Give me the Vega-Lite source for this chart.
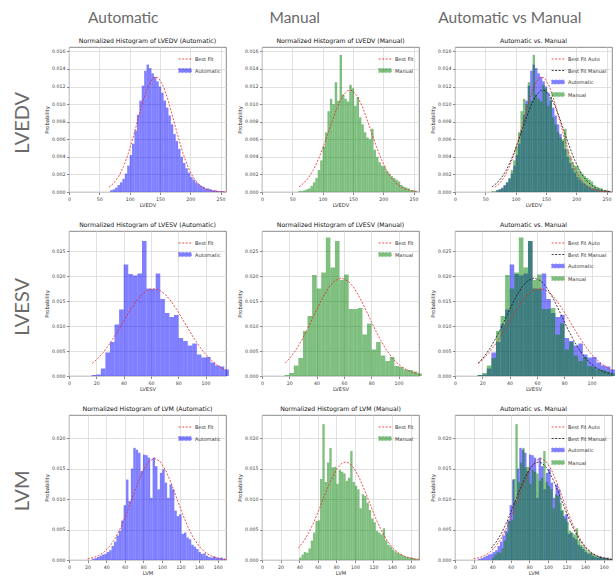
{
"$schema": "https://vega.github.io/schema/vega-lite/v6.json",
"padding": {"left": 13, "top": 10, "right": 0, "bottom": 0},
"background": "white",
"config": {
  "font": "DejaVu Sans",
  "view": {"stroke": "#6b6b6b", "strokeWidth": 0.8},
  "axis": {"labelFont": "DejaVu Sans", "titleFont": "DejaVu Sans", "labelFontSize": 4.7, "titleFontSize": 5.2, "titleFontWeight": "normal", "labelColor": "#444", "titleColor": "#333", "tickColor": "#888", "tickSize": 2.5, "gridColor": "#d9d9d9", "gridWidth": 0.8, "domain": false, "labelPadding": 1.5, "titlePadding": 2, "labelFlush": false, "labelOverlap": false, "tickCount": 12},
  "legend": {"orient": "top-right", "title": null, "labelFontSize": 5, "labelColor": "#333", "rowPadding": 1.5, "padding": 1, "offset": 4, "labelOffset": 3, "symbolSize": 160},
  "title": {"fontWeight": "normal", "font": "DejaVu Sans", "fontSize": 6.2, "color": "#111", "offset": 3}
},
"datasets": {
"hist": [
{"v":"LVEDV","s":"Automatic","a":68,"b":72,"p":0.0002},{"v":"LVEDV","s":"Automatic","a":72,"b":76,"p":0.0003},{"v":"LVEDV","s":"Automatic","a":76,"b":80,"p":0.0005},{"v":"LVEDV","s":"Automatic","a":80,"b":84,"p":0.0008},{"v":"LVEDV","s":"Automatic","a":84,"b":88,"p":0.0011},{"v":"LVEDV","s":"Automatic","a":88,"b":92,"p":0.0015},{"v":"LVEDV","s":"Automatic","a":92,"b":96,"p":0.0021},{"v":"LVEDV","s":"Automatic","a":96,"b":100,"p":0.0030},{"v":"LVEDV","s":"Automatic","a":100,"b":104,"p":0.0042},{"v":"LVEDV","s":"Automatic","a":104,"b":108,"p":0.0055},{"v":"LVEDV","s":"Automatic","a":108,"b":112,"p":0.0070},{"v":"LVEDV","s":"Automatic","a":112,"b":116,"p":0.0088},{"v":"LVEDV","s":"Automatic","a":116,"b":120,"p":0.0104},{"v":"LVEDV","s":"Automatic","a":120,"b":124,"p":0.0121},{"v":"LVEDV","s":"Automatic","a":124,"b":128,"p":0.0138},{"v":"LVEDV","s":"Automatic","a":128,"b":132,"p":0.0145},{"v":"LVEDV","s":"Automatic","a":132,"b":136,"p":0.0141},{"v":"LVEDV","s":"Automatic","a":136,"b":140,"p":0.0135},{"v":"LVEDV","s":"Automatic","a":140,"b":144,"p":0.0131},{"v":"LVEDV","s":"Automatic","a":144,"b":148,"p":0.0126},{"v":"LVEDV","s":"Automatic","a":148,"b":152,"p":0.0120},{"v":"LVEDV","s":"Automatic","a":152,"b":156,"p":0.0113},{"v":"LVEDV","s":"Automatic","a":156,"b":160,"p":0.0104},{"v":"LVEDV","s":"Automatic","a":160,"b":164,"p":0.0096},{"v":"LVEDV","s":"Automatic","a":164,"b":168,"p":0.0087},{"v":"LVEDV","s":"Automatic","a":168,"b":172,"p":0.0077},{"v":"LVEDV","s":"Automatic","a":172,"b":176,"p":0.0066},{"v":"LVEDV","s":"Automatic","a":176,"b":180,"p":0.0058},{"v":"LVEDV","s":"Automatic","a":180,"b":184,"p":0.0049},{"v":"LVEDV","s":"Automatic","a":184,"b":188,"p":0.0040},{"v":"LVEDV","s":"Automatic","a":188,"b":192,"p":0.0033},{"v":"LVEDV","s":"Automatic","a":192,"b":196,"p":0.0027},{"v":"LVEDV","s":"Automatic","a":196,"b":200,"p":0.0022},{"v":"LVEDV","s":"Automatic","a":200,"b":204,"p":0.0017},{"v":"LVEDV","s":"Automatic","a":204,"b":208,"p":0.0014},{"v":"LVEDV","s":"Automatic","a":208,"b":212,"p":0.0011},{"v":"LVEDV","s":"Automatic","a":212,"b":216,"p":0.0009},{"v":"LVEDV","s":"Automatic","a":216,"b":220,"p":0.0007},{"v":"LVEDV","s":"Automatic","a":220,"b":224,"p":0.0006},{"v":"LVEDV","s":"Automatic","a":224,"b":228,"p":0.0004},{"v":"LVEDV","s":"Automatic","a":228,"b":232,"p":0.0004},{"v":"LVEDV","s":"Automatic","a":232,"b":236,"p":0.0003},{"v":"LVEDV","s":"Automatic","a":236,"b":240,"p":0.0002},{"v":"LVEDV","s":"Automatic","a":240,"b":244,"p":0.0002},{"v":"LVEDV","s":"Automatic","a":244,"b":248,"p":0.0001},{"v":"LVEDV","s":"Automatic","a":248,"b":252,"p":0.0001},{"v":"LVEDV","s":"Automatic","a":252,"b":256,"p":0.0001},
{"v":"LVESV","s":"Automatic","a":16.6,"b":19.95,"p":0.0002},{"v":"LVESV","s":"Automatic","a":19.95,"b":23.3,"p":0.0003},{"v":"LVESV","s":"Automatic","a":23.3,"b":26.65,"p":0.0015},{"v":"LVESV","s":"Automatic","a":26.65,"b":30.0,"p":0.0047},{"v":"LVESV","s":"Automatic","a":30.0,"b":33.35,"p":0.0068},{"v":"LVESV","s":"Automatic","a":33.35,"b":36.7,"p":0.0103},{"v":"LVESV","s":"Automatic","a":36.7,"b":40.05,"p":0.0133},{"v":"LVESV","s":"Automatic","a":40.05,"b":43.4,"p":0.0223},{"v":"LVESV","s":"Automatic","a":43.4,"b":46.75,"p":0.0204},{"v":"LVESV","s":"Automatic","a":46.75,"b":50.1,"p":0.0201},{"v":"LVESV","s":"Automatic","a":50.1,"b":53.45,"p":0.0205},{"v":"LVESV","s":"Automatic","a":53.45,"b":56.8,"p":0.0270},{"v":"LVESV","s":"Automatic","a":56.8,"b":60.15,"p":0.0175},{"v":"LVESV","s":"Automatic","a":60.15,"b":63.5,"p":0.0174},{"v":"LVESV","s":"Automatic","a":63.5,"b":66.85,"p":0.0205},{"v":"LVESV","s":"Automatic","a":66.85,"b":70.2,"p":0.0154},{"v":"LVESV","s":"Automatic","a":70.2,"b":73.55,"p":0.0126},{"v":"LVESV","s":"Automatic","a":73.55,"b":76.9,"p":0.0118},{"v":"LVESV","s":"Automatic","a":76.9,"b":80.25,"p":0.0122},{"v":"LVESV","s":"Automatic","a":80.25,"b":83.6,"p":0.0076},{"v":"LVESV","s":"Automatic","a":83.6,"b":86.95,"p":0.0070},{"v":"LVESV","s":"Automatic","a":86.95,"b":90.3,"p":0.0061},{"v":"LVESV","s":"Automatic","a":90.3,"b":93.65,"p":0.0065},{"v":"LVESV","s":"Automatic","a":93.65,"b":97.0,"p":0.0043},{"v":"LVESV","s":"Automatic","a":97.0,"b":100.35,"p":0.0037},{"v":"LVESV","s":"Automatic","a":100.35,"b":103.7,"p":0.0038},{"v":"LVESV","s":"Automatic","a":103.7,"b":107.05,"p":0.0027},{"v":"LVESV","s":"Automatic","a":107.05,"b":110.4,"p":0.0021},{"v":"LVESV","s":"Automatic","a":110.4,"b":113.75,"p":0.0019},{"v":"LVESV","s":"Automatic","a":113.75,"b":117.1,"p":0.0013},
{"v":"LVM","s":"Automatic","a":25.0,"b":27.6,"p":0.0002},{"v":"LVM","s":"Automatic","a":27.6,"b":30.2,"p":0.0003},{"v":"LVM","s":"Automatic","a":30.2,"b":32.8,"p":0.0005},{"v":"LVM","s":"Automatic","a":32.8,"b":35.4,"p":0.0007},{"v":"LVM","s":"Automatic","a":35.4,"b":38.0,"p":0.0009},{"v":"LVM","s":"Automatic","a":38.0,"b":40.6,"p":0.0010},{"v":"LVM","s":"Automatic","a":40.6,"b":43.2,"p":0.0013},{"v":"LVM","s":"Automatic","a":43.2,"b":45.8,"p":0.0016},{"v":"LVM","s":"Automatic","a":45.8,"b":48.4,"p":0.0023},{"v":"LVM","s":"Automatic","a":48.4,"b":51.0,"p":0.0030},{"v":"LVM","s":"Automatic","a":51.0,"b":53.6,"p":0.0040},{"v":"LVM","s":"Automatic","a":53.6,"b":56.2,"p":0.0048},{"v":"LVM","s":"Automatic","a":56.2,"b":58.8,"p":0.0065},{"v":"LVM","s":"Automatic","a":58.8,"b":61.4,"p":0.0090},{"v":"LVM","s":"Automatic","a":61.4,"b":64.0,"p":0.0132},{"v":"LVM","s":"Automatic","a":64.0,"b":66.6,"p":0.0097},{"v":"LVM","s":"Automatic","a":66.6,"b":69.2,"p":0.0150},{"v":"LVM","s":"Automatic","a":69.2,"b":71.8,"p":0.0184},{"v":"LVM","s":"Automatic","a":71.8,"b":74.4,"p":0.0181},{"v":"LVM","s":"Automatic","a":74.4,"b":77.0,"p":0.0176},{"v":"LVM","s":"Automatic","a":77.0,"b":79.6,"p":0.0146},{"v":"LVM","s":"Automatic","a":79.6,"b":82.2,"p":0.0173},{"v":"LVM","s":"Automatic","a":82.2,"b":84.8,"p":0.0172},{"v":"LVM","s":"Automatic","a":84.8,"b":87.4,"p":0.0168},{"v":"LVM","s":"Automatic","a":87.4,"b":90.0,"p":0.0102},{"v":"LVM","s":"Automatic","a":90.0,"b":92.6,"p":0.0168},{"v":"LVM","s":"Automatic","a":92.6,"b":95.2,"p":0.0154},{"v":"LVM","s":"Automatic","a":95.2,"b":97.8,"p":0.0116},{"v":"LVM","s":"Automatic","a":97.8,"b":100.4,"p":0.0143},{"v":"LVM","s":"Automatic","a":100.4,"b":103.0,"p":0.0149},{"v":"LVM","s":"Automatic","a":103.0,"b":105.6,"p":0.0127},{"v":"LVM","s":"Automatic","a":105.6,"b":108.2,"p":0.0102},{"v":"LVM","s":"Automatic","a":108.2,"b":110.8,"p":0.0124},{"v":"LVM","s":"Automatic","a":110.8,"b":113.4,"p":0.0116},{"v":"LVM","s":"Automatic","a":113.4,"b":116.0,"p":0.0081},{"v":"LVM","s":"Automatic","a":116.0,"b":118.6,"p":0.0072},{"v":"LVM","s":"Automatic","a":118.6,"b":121.2,"p":0.0075},{"v":"LVM","s":"Automatic","a":121.2,"b":123.8,"p":0.0043},{"v":"LVM","s":"Automatic","a":123.8,"b":126.4,"p":0.0045},{"v":"LVM","s":"Automatic","a":126.4,"b":129.0,"p":0.0037},{"v":"LVM","s":"Automatic","a":129.0,"b":131.6,"p":0.0034},{"v":"LVM","s":"Automatic","a":131.6,"b":134.2,"p":0.0025},{"v":"LVM","s":"Automatic","a":134.2,"b":136.8,"p":0.0022},{"v":"LVM","s":"Automatic","a":136.8,"b":139.4,"p":0.0018},{"v":"LVM","s":"Automatic","a":139.4,"b":142.0,"p":0.0013},{"v":"LVM","s":"Automatic","a":142.0,"b":144.6,"p":0.0010},{"v":"LVM","s":"Automatic","a":144.6,"b":147.2,"p":0.0011},{"v":"LVM","s":"Automatic","a":147.2,"b":149.8,"p":0.0007},{"v":"LVM","s":"Automatic","a":149.8,"b":152.4,"p":0.0005},{"v":"LVM","s":"Automatic","a":152.4,"b":155.0,"p":0.0004},{"v":"LVM","s":"Automatic","a":155.0,"b":157.6,"p":0.0006},{"v":"LVM","s":"Automatic","a":157.6,"b":160.2,"p":0.0004},{"v":"LVM","s":"Automatic","a":160.2,"b":162.8,"p":0.0003},{"v":"LVM","s":"Automatic","a":162.8,"b":165.4,"p":0.0004},{"v":"LVM","s":"Automatic","a":165.4,"b":168.0,"p":0.0002},
{"v":"LVEDV","s":"Manual","a":60,"b":64,"p":0.0001},{"v":"LVEDV","s":"Manual","a":64,"b":68,"p":0.0001},{"v":"LVEDV","s":"Manual","a":68,"b":72,"p":0.0002},{"v":"LVEDV","s":"Manual","a":72,"b":76,"p":0.0003},{"v":"LVEDV","s":"Manual","a":76,"b":80,"p":0.0004},{"v":"LVEDV","s":"Manual","a":80,"b":84,"p":0.0007},{"v":"LVEDV","s":"Manual","a":84,"b":88,"p":0.0011},{"v":"LVEDV","s":"Manual","a":88,"b":92,"p":0.0016},{"v":"LVEDV","s":"Manual","a":92,"b":96,"p":0.0025},{"v":"LVEDV","s":"Manual","a":96,"b":100,"p":0.0036},{"v":"LVEDV","s":"Manual","a":100,"b":104,"p":0.0052},{"v":"LVEDV","s":"Manual","a":104,"b":108,"p":0.0068},{"v":"LVEDV","s":"Manual","a":108,"b":112,"p":0.0092},{"v":"LVEDV","s":"Manual","a":112,"b":116,"p":0.0106},{"v":"LVEDV","s":"Manual","a":116,"b":120,"p":0.0100},{"v":"LVEDV","s":"Manual","a":120,"b":124,"p":0.0125},{"v":"LVEDV","s":"Manual","a":124,"b":128,"p":0.0104},{"v":"LVEDV","s":"Manual","a":128,"b":132,"p":0.0156},{"v":"LVEDV","s":"Manual","a":132,"b":136,"p":0.0111},{"v":"LVEDV","s":"Manual","a":136,"b":140,"p":0.0106},{"v":"LVEDV","s":"Manual","a":140,"b":144,"p":0.0103},{"v":"LVEDV","s":"Manual","a":144,"b":148,"p":0.0122},{"v":"LVEDV","s":"Manual","a":148,"b":152,"p":0.0118},{"v":"LVEDV","s":"Manual","a":152,"b":156,"p":0.0098},{"v":"LVEDV","s":"Manual","a":156,"b":160,"p":0.0108},{"v":"LVEDV","s":"Manual","a":160,"b":164,"p":0.0085},{"v":"LVEDV","s":"Manual","a":164,"b":168,"p":0.0077},{"v":"LVEDV","s":"Manual","a":168,"b":172,"p":0.0068},{"v":"LVEDV","s":"Manual","a":172,"b":176,"p":0.0062},{"v":"LVEDV","s":"Manual","a":176,"b":180,"p":0.0060},{"v":"LVEDV","s":"Manual","a":180,"b":184,"p":0.0072},{"v":"LVEDV","s":"Manual","a":184,"b":188,"p":0.0048},{"v":"LVEDV","s":"Manual","a":188,"b":192,"p":0.0040},{"v":"LVEDV","s":"Manual","a":192,"b":196,"p":0.0034},{"v":"LVEDV","s":"Manual","a":196,"b":200,"p":0.0030},{"v":"LVEDV","s":"Manual","a":200,"b":204,"p":0.0029},{"v":"LVEDV","s":"Manual","a":204,"b":208,"p":0.0024},{"v":"LVEDV","s":"Manual","a":208,"b":212,"p":0.0021},{"v":"LVEDV","s":"Manual","a":212,"b":216,"p":0.0018},{"v":"LVEDV","s":"Manual","a":216,"b":220,"p":0.0016},{"v":"LVEDV","s":"Manual","a":220,"b":224,"p":0.0014},{"v":"LVEDV","s":"Manual","a":224,"b":228,"p":0.0012},{"v":"LVEDV","s":"Manual","a":228,"b":232,"p":0.0008},{"v":"LVEDV","s":"Manual","a":232,"b":236,"p":0.0006},{"v":"LVEDV","s":"Manual","a":236,"b":240,"p":0.0005},{"v":"LVEDV","s":"Manual","a":240,"b":244,"p":0.0004},{"v":"LVEDV","s":"Manual","a":244,"b":248,"p":0.0002},{"v":"LVEDV","s":"Manual","a":248,"b":252,"p":0.0002},{"v":"LVEDV","s":"Manual","a":252,"b":256,"p":0.0001},
{"v":"LVESV","s":"Manual","a":16.6,"b":19.95,"p":0.0002},{"v":"LVESV","s":"Manual","a":19.95,"b":23.3,"p":0.0006},{"v":"LVESV","s":"Manual","a":23.3,"b":26.65,"p":0.0021},{"v":"LVESV","s":"Manual","a":26.65,"b":30.0,"p":0.0036},{"v":"LVESV","s":"Manual","a":30.0,"b":33.35,"p":0.0090},{"v":"LVESV","s":"Manual","a":33.35,"b":36.7,"p":0.0120},{"v":"LVESV","s":"Manual","a":36.7,"b":40.05,"p":0.0202},{"v":"LVESV","s":"Manual","a":40.05,"b":43.4,"p":0.0175},{"v":"LVESV","s":"Manual","a":43.4,"b":46.75,"p":0.0207},{"v":"LVESV","s":"Manual","a":46.75,"b":50.1,"p":0.0277},{"v":"LVESV","s":"Manual","a":50.1,"b":53.45,"p":0.0217},{"v":"LVESV","s":"Manual","a":53.45,"b":56.8,"p":0.0270},{"v":"LVESV","s":"Manual","a":56.8,"b":60.15,"p":0.0192},{"v":"LVESV","s":"Manual","a":60.15,"b":63.5,"p":0.0203},{"v":"LVESV","s":"Manual","a":63.5,"b":66.85,"p":0.0134},{"v":"LVESV","s":"Manual","a":66.85,"b":70.2,"p":0.0134},{"v":"LVESV","s":"Manual","a":70.2,"b":73.55,"p":0.0136},{"v":"LVESV","s":"Manual","a":73.55,"b":76.9,"p":0.0083},{"v":"LVESV","s":"Manual","a":76.9,"b":80.25,"p":0.0105},{"v":"LVESV","s":"Manual","a":80.25,"b":83.6,"p":0.0053},{"v":"LVESV","s":"Manual","a":83.6,"b":86.95,"p":0.0068},{"v":"LVESV","s":"Manual","a":86.95,"b":90.3,"p":0.0041},{"v":"LVESV","s":"Manual","a":90.3,"b":93.65,"p":0.0030},{"v":"LVESV","s":"Manual","a":93.65,"b":97.0,"p":0.0038},{"v":"LVESV","s":"Manual","a":97.0,"b":100.35,"p":0.0020},{"v":"LVESV","s":"Manual","a":100.35,"b":103.7,"p":0.0018},{"v":"LVESV","s":"Manual","a":103.7,"b":107.05,"p":0.0013},{"v":"LVESV","s":"Manual","a":107.05,"b":110.4,"p":0.0012},{"v":"LVESV","s":"Manual","a":110.4,"b":113.75,"p":0.0009},{"v":"LVESV","s":"Manual","a":113.75,"b":117.1,"p":0.0005},
{"v":"LVM","s":"Manual","a":40.0,"b":42.5,"p":0.0004},{"v":"LVM","s":"Manual","a":42.5,"b":45.0,"p":0.0009},{"v":"LVM","s":"Manual","a":45.0,"b":47.5,"p":0.0013},{"v":"LVM","s":"Manual","a":47.5,"b":50.0,"p":0.0012},{"v":"LVM","s":"Manual","a":50.0,"b":52.5,"p":0.0019},{"v":"LVM","s":"Manual","a":52.5,"b":55.0,"p":0.0032},{"v":"LVM","s":"Manual","a":55.0,"b":57.5,"p":0.0045},{"v":"LVM","s":"Manual","a":57.5,"b":60.0,"p":0.0064},{"v":"LVM","s":"Manual","a":60.0,"b":62.5,"p":0.0065},{"v":"LVM","s":"Manual","a":62.5,"b":65.0,"p":0.0133},{"v":"LVM","s":"Manual","a":65.0,"b":67.5,"p":0.0223},{"v":"LVM","s":"Manual","a":67.5,"b":70.0,"p":0.0128},{"v":"LVM","s":"Manual","a":70.0,"b":72.5,"p":0.0160},{"v":"LVM","s":"Manual","a":72.5,"b":75.0,"p":0.0184},{"v":"LVM","s":"Manual","a":75.0,"b":77.5,"p":0.0152},{"v":"LVM","s":"Manual","a":77.5,"b":80.0,"p":0.0153},{"v":"LVM","s":"Manual","a":80.0,"b":82.5,"p":0.0125},{"v":"LVM","s":"Manual","a":82.5,"b":85.0,"p":0.0148},{"v":"LVM","s":"Manual","a":85.0,"b":87.5,"p":0.0145},{"v":"LVM","s":"Manual","a":87.5,"b":90.0,"p":0.0142},{"v":"LVM","s":"Manual","a":90.0,"b":92.5,"p":0.0130},{"v":"LVM","s":"Manual","a":92.5,"b":95.0,"p":0.0135},{"v":"LVM","s":"Manual","a":95.0,"b":97.5,"p":0.0179},{"v":"LVM","s":"Manual","a":97.5,"b":100.0,"p":0.0128},{"v":"LVM","s":"Manual","a":100.0,"b":102.5,"p":0.0122},{"v":"LVM","s":"Manual","a":102.5,"b":105.0,"p":0.0116},{"v":"LVM","s":"Manual","a":105.0,"b":107.5,"p":0.0085},{"v":"LVM","s":"Manual","a":107.5,"b":110.0,"p":0.0108},{"v":"LVM","s":"Manual","a":110.0,"b":112.5,"p":0.0105},{"v":"LVM","s":"Manual","a":112.5,"b":115.0,"p":0.0094},{"v":"LVM","s":"Manual","a":115.0,"b":117.5,"p":0.0082},{"v":"LVM","s":"Manual","a":117.5,"b":120.0,"p":0.0068},{"v":"LVM","s":"Manual","a":120.0,"b":122.5,"p":0.0062},{"v":"LVM","s":"Manual","a":122.5,"b":125.0,"p":0.0048},{"v":"LVM","s":"Manual","a":125.0,"b":127.5,"p":0.0045},{"v":"LVM","s":"Manual","a":127.5,"b":130.0,"p":0.0042},{"v":"LVM","s":"Manual","a":130.0,"b":132.5,"p":0.0052},{"v":"LVM","s":"Manual","a":132.5,"b":135.0,"p":0.0032},{"v":"LVM","s":"Manual","a":135.0,"b":137.5,"p":0.0025},{"v":"LVM","s":"Manual","a":137.5,"b":140.0,"p":0.0022},{"v":"LVM","s":"Manual","a":140.0,"b":142.5,"p":0.0017},{"v":"LVM","s":"Manual","a":142.5,"b":145.0,"p":0.0014},{"v":"LVM","s":"Manual","a":145.0,"b":147.5,"p":0.0012},{"v":"LVM","s":"Manual","a":147.5,"b":150.0,"p":0.0010},{"v":"LVM","s":"Manual","a":150.0,"b":152.5,"p":0.0008},{"v":"LVM","s":"Manual","a":152.5,"b":155.0,"p":0.0006},{"v":"LVM","s":"Manual","a":155.0,"b":157.5,"p":0.0005},{"v":"LVM","s":"Manual","a":157.5,"b":160.0,"p":0.0004},{"v":"LVM","s":"Manual","a":160.0,"b":162.5,"p":0.0004},{"v":"LVM","s":"Manual","a":162.5,"b":165.0,"p":0.0003},{"v":"LVM","s":"Manual","a":165.0,"b":167.5,"p":0.0002}
],
"fit": [
{"v":"LVEDV","g":"Fit Auto","x":66,"y":0.000541},{"v":"LVEDV","g":"Fit Auto","x":74,"y":0.001014},{"v":"LVEDV","g":"Fit Auto","x":82,"y":0.001773},{"v":"LVEDV","g":"Fit Auto","x":90,"y":0.002894},{"v":"LVEDV","g":"Fit Auto","x":98,"y":0.004413},{"v":"LVEDV","g":"Fit Auto","x":106,"y":0.006275},{"v":"LVEDV","g":"Fit Auto","x":114,"y":0.00833},{"v":"LVEDV","g":"Fit Auto","x":122,"y":0.01033},{"v":"LVEDV","g":"Fit Auto","x":130,"y":0.01196},{"v":"LVEDV","g":"Fit Auto","x":138,"y":0.01293},{"v":"LVEDV","g":"Fit Auto","x":143,"y":0.0131},{"v":"LVEDV","g":"Fit Auto","x":148,"y":0.01293},{"v":"LVEDV","g":"Fit Auto","x":156,"y":0.01196},{"v":"LVEDV","g":"Fit Auto","x":164,"y":0.01033},{"v":"LVEDV","g":"Fit Auto","x":172,"y":0.00833},{"v":"LVEDV","g":"Fit Auto","x":180,"y":0.006275},{"v":"LVEDV","g":"Fit Auto","x":188,"y":0.004413},{"v":"LVEDV","g":"Fit Auto","x":196,"y":0.002894},{"v":"LVEDV","g":"Fit Auto","x":204,"y":0.001773},{"v":"LVEDV","g":"Fit Auto","x":212,"y":0.001014},{"v":"LVEDV","g":"Fit Auto","x":220,"y":0.000541},{"v":"LVEDV","g":"Fit Auto","x":228,"y":0.000269},{"v":"LVEDV","g":"Fit Auto","x":236,"y":0.000125},{"v":"LVEDV","g":"Fit Auto","x":244,"y":0.0000545},{"v":"LVEDV","g":"Fit Auto","x":252,"y":0.000022},{"v":"LVEDV","g":"Fit Auto","x":258,"y":0.00001},
{"v":"LVEDV","g":"Fit Manual","x":61,"y":0.000588},{"v":"LVEDV","g":"Fit Manual","x":69,"y":0.001011},{"v":"LVEDV","g":"Fit Manual","x":77,"y":0.001644},{"v":"LVEDV","g":"Fit Manual","x":85,"y":0.002535},{"v":"LVEDV","g":"Fit Manual","x":93,"y":0.003699},{"v":"LVEDV","g":"Fit Manual","x":101,"y":0.005119},{"v":"LVEDV","g":"Fit Manual","x":109,"y":0.006705},{"v":"LVEDV","g":"Fit Manual","x":117,"y":0.00833},{"v":"LVEDV","g":"Fit Manual","x":125,"y":0.0098},{"v":"LVEDV","g":"Fit Manual","x":133,"y":0.01092},{"v":"LVEDV","g":"Fit Manual","x":141,"y":0.01152},{"v":"LVEDV","g":"Fit Manual","x":145,"y":0.0116},{"v":"LVEDV","g":"Fit Manual","x":149,"y":0.01152},{"v":"LVEDV","g":"Fit Manual","x":157,"y":0.01092},{"v":"LVEDV","g":"Fit Manual","x":165,"y":0.0098},{"v":"LVEDV","g":"Fit Manual","x":173,"y":0.00833},{"v":"LVEDV","g":"Fit Manual","x":181,"y":0.006705},{"v":"LVEDV","g":"Fit Manual","x":189,"y":0.005119},{"v":"LVEDV","g":"Fit Manual","x":197,"y":0.003699},{"v":"LVEDV","g":"Fit Manual","x":205,"y":0.002535},{"v":"LVEDV","g":"Fit Manual","x":213,"y":0.001644},{"v":"LVEDV","g":"Fit Manual","x":221,"y":0.001011},{"v":"LVEDV","g":"Fit Manual","x":229,"y":0.000588},{"v":"LVEDV","g":"Fit Manual","x":237,"y":0.000325},{"v":"LVEDV","g":"Fit Manual","x":245,"y":0.00017},{"v":"LVEDV","g":"Fit Manual","x":253,"y":0.0000839},{"v":"LVEDV","g":"Fit Manual","x":258,"y":0.0000527},
{"v":"LVESV","g":"Fit Auto","x":17,"y":0.002495},{"v":"LVESV","g":"Fit Auto","x":21,"y":0.003474},{"v":"LVESV","g":"Fit Auto","x":25,"y":0.00469},{"v":"LVESV","g":"Fit Auto","x":29,"y":0.00614},{"v":"LVESV","g":"Fit Auto","x":33,"y":0.00779},{"v":"LVESV","g":"Fit Auto","x":37,"y":0.00959},{"v":"LVESV","g":"Fit Auto","x":41,"y":0.01145},{"v":"LVESV","g":"Fit Auto","x":45,"y":0.01325},{"v":"LVESV","g":"Fit Auto","x":49,"y":0.01488},{"v":"LVESV","g":"Fit Auto","x":53,"y":0.01619},{"v":"LVESV","g":"Fit Auto","x":57,"y":0.01708},{"v":"LVESV","g":"Fit Auto","x":62,"y":0.0175},{"v":"LVESV","g":"Fit Auto","x":67,"y":0.01708},{"v":"LVESV","g":"Fit Auto","x":71,"y":0.01619},{"v":"LVESV","g":"Fit Auto","x":75,"y":0.01488},{"v":"LVESV","g":"Fit Auto","x":79,"y":0.01325},{"v":"LVESV","g":"Fit Auto","x":83,"y":0.01145},{"v":"LVESV","g":"Fit Auto","x":87,"y":0.00959},{"v":"LVESV","g":"Fit Auto","x":91,"y":0.00779},{"v":"LVESV","g":"Fit Auto","x":95,"y":0.00614},{"v":"LVESV","g":"Fit Auto","x":99,"y":0.00469},{"v":"LVESV","g":"Fit Auto","x":103,"y":0.003474},{"v":"LVESV","g":"Fit Auto","x":107,"y":0.002495},{"v":"LVESV","g":"Fit Auto","x":111,"y":0.00174},{"v":"LVESV","g":"Fit Auto","x":115,"y":0.001174},
{"v":"LVESV","g":"Fit Manual","x":17,"y":0.002574},{"v":"LVESV","g":"Fit Manual","x":21,"y":0.003753},{"v":"LVESV","g":"Fit Manual","x":25,"y":0.005263},{"v":"LVESV","g":"Fit Manual","x":29,"y":0.0071},{"v":"LVESV","g":"Fit Manual","x":33,"y":0.009214},{"v":"LVESV","g":"Fit Manual","x":37,"y":0.01151},{"v":"LVESV","g":"Fit Manual","x":41,"y":0.01383},{"v":"LVESV","g":"Fit Manual","x":45,"y":0.01598},{"v":"LVESV","g":"Fit Manual","x":49,"y":0.01777},{"v":"LVESV","g":"Fit Manual","x":53,"y":0.01902},{"v":"LVESV","g":"Fit Manual","x":58,"y":0.0196},{"v":"LVESV","g":"Fit Manual","x":63,"y":0.01902},{"v":"LVESV","g":"Fit Manual","x":67,"y":0.01777},{"v":"LVESV","g":"Fit Manual","x":71,"y":0.01598},{"v":"LVESV","g":"Fit Manual","x":75,"y":0.01383},{"v":"LVESV","g":"Fit Manual","x":79,"y":0.01151},{"v":"LVESV","g":"Fit Manual","x":83,"y":0.009214},{"v":"LVESV","g":"Fit Manual","x":87,"y":0.0071},{"v":"LVESV","g":"Fit Manual","x":91,"y":0.005263},{"v":"LVESV","g":"Fit Manual","x":95,"y":0.003753},{"v":"LVESV","g":"Fit Manual","x":99,"y":0.002574},{"v":"LVESV","g":"Fit Manual","x":103,"y":0.0017},{"v":"LVESV","g":"Fit Manual","x":107,"y":0.00108},{"v":"LVESV","g":"Fit Manual","x":111,"y":0.000659},{"v":"LVESV","g":"Fit Manual","x":115,"y":0.000388},
{"v":"LVM","g":"Fit Auto","x":20,"y":0.000186},{"v":"LVM","g":"Fit Auto","x":26,"y":0.000381},{"v":"LVM","g":"Fit Auto","x":32,"y":0.000733},{"v":"LVM","g":"Fit Auto","x":38,"y":0.00133},{"v":"LVM","g":"Fit Auto","x":44,"y":0.00226},{"v":"LVM","g":"Fit Auto","x":50,"y":0.00361},{"v":"LVM","g":"Fit Auto","x":56,"y":0.00542},{"v":"LVM","g":"Fit Auto","x":62,"y":0.00765},{"v":"LVM","g":"Fit Auto","x":68,"y":0.01013},{"v":"LVM","g":"Fit Auto","x":74,"y":0.0126},{"v":"LVM","g":"Fit Auto","x":80,"y":0.01474},{"v":"LVM","g":"Fit Auto","x":86,"y":0.01619},{"v":"LVM","g":"Fit Auto","x":92,"y":0.0167},{"v":"LVM","g":"Fit Auto","x":98,"y":0.01619},{"v":"LVM","g":"Fit Auto","x":104,"y":0.01474},{"v":"LVM","g":"Fit Auto","x":110,"y":0.0126},{"v":"LVM","g":"Fit Auto","x":116,"y":0.01013},{"v":"LVM","g":"Fit Auto","x":122,"y":0.00765},{"v":"LVM","g":"Fit Auto","x":128,"y":0.00542},{"v":"LVM","g":"Fit Auto","x":134,"y":0.00361},{"v":"LVM","g":"Fit Auto","x":140,"y":0.00226},{"v":"LVM","g":"Fit Auto","x":146,"y":0.00133},{"v":"LVM","g":"Fit Auto","x":152,"y":0.000733},{"v":"LVM","g":"Fit Auto","x":158,"y":0.000381},{"v":"LVM","g":"Fit Auto","x":164,"y":0.000186},{"v":"LVM","g":"Fit Auto","x":169,"y":0.000097},
{"v":"LVM","g":"Fit Manual","x":39,"y":0.00194},{"v":"LVM","g":"Fit Manual","x":45,"y":0.0031},{"v":"LVM","g":"Fit Manual","x":51,"y":0.00467},{"v":"LVM","g":"Fit Manual","x":57,"y":0.00664},{"v":"LVM","g":"Fit Manual","x":63,"y":0.0089},{"v":"LVM","g":"Fit Manual","x":69,"y":0.01125},{"v":"LVM","g":"Fit Manual","x":75,"y":0.01341},{"v":"LVM","g":"Fit Manual","x":81,"y":0.01507},{"v":"LVM","g":"Fit Manual","x":86,"y":0.01589},{"v":"LVM","g":"Fit Manual","x":90,"y":0.0161},{"v":"LVM","g":"Fit Manual","x":94,"y":0.01589},{"v":"LVM","g":"Fit Manual","x":99,"y":0.01507},{"v":"LVM","g":"Fit Manual","x":105,"y":0.01341},{"v":"LVM","g":"Fit Manual","x":111,"y":0.01125},{"v":"LVM","g":"Fit Manual","x":117,"y":0.0089},{"v":"LVM","g":"Fit Manual","x":123,"y":0.00664},{"v":"LVM","g":"Fit Manual","x":129,"y":0.00467},{"v":"LVM","g":"Fit Manual","x":135,"y":0.0031},{"v":"LVM","g":"Fit Manual","x":141,"y":0.00194},{"v":"LVM","g":"Fit Manual","x":147,"y":0.00115},{"v":"LVM","g":"Fit Manual","x":153,"y":0.000639},{"v":"LVM","g":"Fit Manual","x":159,"y":0.000336},{"v":"LVM","g":"Fit Manual","x":165,"y":0.000166},{"v":"LVM","g":"Fit Manual","x":169,"y":0.000101}
]
},
"resolve": {"scale": {"color": "independent"}},
"spacing": 7,
"hconcat": [
{
 "title": {"text": "Automatic", "font": "Lato", "fontSize": 15.5, "color": "#6a6a6a", "anchor": "middle", "offset": 11, "dx": 2},
 "resolve": {"scale": {"color": "independent"}},
 "spacing": 12,
 "vconcat": [
  {"title": {"text": "LVEDV", "orient": "left", "font": "Lato", "fontSize": 20, "color": "#6a6a6a", "anchor": "middle", "offset": 11},
   "resolve": {"scale": {"color": "independent"}},
   "vconcat": [{
    "width": 157, "height": 145,
    "title": "Normalized Histogram of LVEDV (Automatic)",
    "layer": [
     {"data": {"name": "hist"}, "transform": [{"filter": "datum.v == 'LVEDV' && datum.s == 'Automatic'"}],
      "mark": {"type": "rect", "fillOpacity": 0.5, "strokeWidth": 0},
      "encoding": {
       "x": {"field": "a", "type": "quantitative", "title": "LVEDV", "scale": {"domain": [0, 259], "nice": false}, "axis": {"values": [0, 50, 100, 150, 200, 250], "tickCount": 12}},
       "x2": {"field": "b"},
       "y": {"field": "p", "type": "quantitative", "title": "Probability", "scale": {"domain": [0, 0.0165], "nice": false}, "axis": {"values": [0, 0.002, 0.004, 0.006, 0.008, 0.01, 0.012, 0.014, 0.016], "format": ".3f", "tickCount": 12}},
       "y2": {"datum": 0},
       "color": {"field": "s", "type": "nominal", "scale": {"domain": ["Fit Auto", "Automatic"], "range": ["#ee2222", "#0000ff"]}, "legend": {"labelExpr": "indexof(datum.label, 'Fit') == 0 ? 'Best Fit' : datum.label", "encode": {"symbols": {"update": {"shape": {"signal": "indexof(datum.value, 'Fit') == 0 ? 'stroke' : 'M-1,-0.3H1V0.3H-1Z'"}, "fill": {"signal": "indexof(datum.value, 'Fit') == 0 ? 'transparent' : '#0000ff'"}, "stroke": {"signal": "indexof(datum.value, 'Fit') == 0 ? '#ee2222' : 'transparent'"}, "opacity": {"signal": "indexof(datum.value, 'Fit') == 0 ? 1 : 0.5"}, "strokeDash": {"value": [2, 1.5]}, "strokeWidth": {"value": 0.8}, "size": {"value": 160}}}}}}
      }},
     {"data": {"name": "fit"}, "transform": [{"filter": "datum.v == 'LVEDV' && datum.g == 'Fit Auto'"}],
      "mark": {"type": "line", "strokeWidth": 0.8, "strokeDash": [2, 1.5]},
      "encoding": {
       "x": {"field": "x", "type": "quantitative", "title": "LVEDV"},
       "y": {"field": "y", "type": "quantitative", "title": "Probability"},
       "color": {"field": "g", "type": "nominal", "scale": {"domain": ["Fit Auto", "Automatic"], "range": ["#ee2222", "#0000ff"]}}
      }}
    ]
   }]
  },
  {"title": {"text": "LVESV", "orient": "left", "font": "Lato", "fontSize": 20, "color": "#6a6a6a", "anchor": "middle", "offset": 11},
   "resolve": {"scale": {"color": "independent"}},
   "vconcat": [{
    "width": 157, "height": 145,
    "title": "Normalized Histogram of LVESV (Automatic)",
    "layer": [
     {"data": {"name": "hist"}, "transform": [{"filter": "datum.v == 'LVESV' && datum.s == 'Automatic'"}],
      "mark": {"type": "rect", "fillOpacity": 0.5, "strokeWidth": 0},
      "encoding": {
       "x": {"field": "a", "type": "quantitative", "title": "LVESV", "scale": {"domain": [0, 115], "nice": false}, "axis": {"values": [0, 20, 40, 60, 80, 100], "tickCount": 12}},
       "x2": {"field": "b"},
       "y": {"field": "p", "type": "quantitative", "title": "Probability", "scale": {"domain": [0, 0.029], "nice": false}, "axis": {"values": [0, 0.005, 0.01, 0.015, 0.02, 0.025], "format": ".3f", "tickCount": 12}},
       "y2": {"datum": 0},
       "color": {"field": "s", "type": "nominal", "scale": {"domain": ["Fit Auto", "Automatic"], "range": ["#ee2222", "#0000ff"]}, "legend": {"labelExpr": "indexof(datum.label, 'Fit') == 0 ? 'Best Fit' : datum.label", "encode": {"symbols": {"update": {"shape": {"signal": "indexof(datum.value, 'Fit') == 0 ? 'stroke' : 'M-1,-0.3H1V0.3H-1Z'"}, "fill": {"signal": "indexof(datum.value, 'Fit') == 0 ? 'transparent' : '#0000ff'"}, "stroke": {"signal": "indexof(datum.value, 'Fit') == 0 ? '#ee2222' : 'transparent'"}, "opacity": {"signal": "indexof(datum.value, 'Fit') == 0 ? 1 : 0.5"}, "strokeDash": {"value": [2, 1.5]}, "strokeWidth": {"value": 0.8}, "size": {"value": 160}}}}}}
      }},
     {"data": {"name": "fit"}, "transform": [{"filter": "datum.v == 'LVESV' && datum.g == 'Fit Auto'"}],
      "mark": {"type": "line", "strokeWidth": 0.8, "strokeDash": [2, 1.5]},
      "encoding": {
       "x": {"field": "x", "type": "quantitative", "title": "LVESV"},
       "y": {"field": "y", "type": "quantitative", "title": "Probability"},
       "color": {"field": "g", "type": "nominal", "scale": {"domain": ["Fit Auto", "Automatic"], "range": ["#ee2222", "#0000ff"]}}
      }}
    ]
   }]
  },
  {"title": {"text": "LVM", "orient": "left", "font": "Lato", "fontSize": 20, "color": "#6a6a6a", "anchor": "middle", "offset": 11},
   "resolve": {"scale": {"color": "independent"}},
   "vconcat": [{
    "width": 157, "height": 145,
    "title": "Normalized Histogram of LVM (Automatic)",
    "layer": [
     {"data": {"name": "hist"}, "transform": [{"filter": "datum.v == 'LVM' && datum.s == 'Automatic'"}],
      "mark": {"type": "rect", "fillOpacity": 0.5, "strokeWidth": 0},
      "encoding": {
       "x": {"field": "a", "type": "quantitative", "title": "LVM", "scale": {"domain": [0, 169], "nice": false}, "axis": {"values": [0, 20, 40, 60, 80, 100, 120, 140, 160], "tickCount": 12}},
       "x2": {"field": "b"},
       "y": {"field": "p", "type": "quantitative", "title": "Probability", "scale": {"domain": [0, 0.0238], "nice": false}, "axis": {"values": [0, 0.005, 0.01, 0.015, 0.02], "format": ".3f", "tickCount": 12}},
       "y2": {"datum": 0},
       "color": {"field": "s", "type": "nominal", "scale": {"domain": ["Fit Auto", "Automatic"], "range": ["#ee2222", "#0000ff"]}, "legend": {"labelExpr": "indexof(datum.label, 'Fit') == 0 ? 'Best Fit' : datum.label", "encode": {"symbols": {"update": {"shape": {"signal": "indexof(datum.value, 'Fit') == 0 ? 'stroke' : 'M-1,-0.3H1V0.3H-1Z'"}, "fill": {"signal": "indexof(datum.value, 'Fit') == 0 ? 'transparent' : '#0000ff'"}, "stroke": {"signal": "indexof(datum.value, 'Fit') == 0 ? '#ee2222' : 'transparent'"}, "opacity": {"signal": "indexof(datum.value, 'Fit') == 0 ? 1 : 0.5"}, "strokeDash": {"value": [2, 1.5]}, "strokeWidth": {"value": 0.8}, "size": {"value": 160}}}}}}
      }},
     {"data": {"name": "fit"}, "transform": [{"filter": "datum.v == 'LVM' && datum.g == 'Fit Auto'"}],
      "mark": {"type": "line", "strokeWidth": 0.8, "strokeDash": [2, 1.5]},
      "encoding": {
       "x": {"field": "x", "type": "quantitative", "title": "LVM"},
       "y": {"field": "y", "type": "quantitative", "title": "Probability"},
       "color": {"field": "g", "type": "nominal", "scale": {"domain": ["Fit Auto", "Automatic"], "range": ["#ee2222", "#0000ff"]}}
      }}
    ]
   }]
  }
 ]
},
{
 "title": {"text": "Manual", "font": "Lato", "fontSize": 15.5, "color": "#6a6a6a", "anchor": "middle", "offset": 11, "dx": -35},
 "resolve": {"scale": {"color": "independent"}},
 "spacing": 12,
 "vconcat": [
  {
    "width": 157, "height": 145,
    "title": "Normalized Histogram of LVEDV (Manual)",
    "layer": [
     {"data": {"name": "hist"}, "transform": [{"filter": "datum.v == 'LVEDV' && datum.s == 'Manual'"}],
      "mark": {"type": "rect", "fillOpacity": 0.5, "strokeWidth": 0},
      "encoding": {
       "x": {"field": "a", "type": "quantitative", "title": "LVEDV", "scale": {"domain": [0, 259], "nice": false}, "axis": {"values": [0, 50, 100, 150, 200, 250], "tickCount": 12}},
       "x2": {"field": "b"},
       "y": {"field": "p", "type": "quantitative", "title": "Probability", "scale": {"domain": [0, 0.0165], "nice": false}, "axis": {"values": [0, 0.002, 0.004, 0.006, 0.008, 0.01, 0.012, 0.014, 0.016], "format": ".3f", "tickCount": 12}},
       "y2": {"datum": 0},
       "color": {"field": "s", "type": "nominal", "scale": {"domain": ["Fit Manual", "Manual"], "range": ["#ee2222", "#008000"]}, "legend": {"labelExpr": "indexof(datum.label, 'Fit') == 0 ? 'Best Fit' : datum.label", "encode": {"symbols": {"update": {"shape": {"signal": "indexof(datum.value, 'Fit') == 0 ? 'stroke' : 'M-1,-0.3H1V0.3H-1Z'"}, "fill": {"signal": "indexof(datum.value, 'Fit') == 0 ? 'transparent' : '#008000'"}, "stroke": {"signal": "indexof(datum.value, 'Fit') == 0 ? '#ee2222' : 'transparent'"}, "opacity": {"signal": "indexof(datum.value, 'Fit') == 0 ? 1 : 0.5"}, "strokeDash": {"value": [2, 1.5]}, "strokeWidth": {"value": 0.8}, "size": {"value": 160}}}}}}
      }},
     {"data": {"name": "fit"}, "transform": [{"filter": "datum.v == 'LVEDV' && datum.g == 'Fit Manual'"}],
      "mark": {"type": "line", "strokeWidth": 0.8, "strokeDash": [2, 1.5]},
      "encoding": {
       "x": {"field": "x", "type": "quantitative", "title": "LVEDV"},
       "y": {"field": "y", "type": "quantitative", "title": "Probability"},
       "color": {"field": "g", "type": "nominal", "scale": {"domain": ["Fit Manual", "Manual"], "range": ["#ee2222", "#008000"]}}
      }}
    ]
  },
  {
    "width": 157, "height": 145,
    "title": "Normalized Histogram of LVESV (Manual)",
    "layer": [
     {"data": {"name": "hist"}, "transform": [{"filter": "datum.v == 'LVESV' && datum.s == 'Manual'"}],
      "mark": {"type": "rect", "fillOpacity": 0.5, "strokeWidth": 0},
      "encoding": {
       "x": {"field": "a", "type": "quantitative", "title": "LVESV", "scale": {"domain": [0, 115], "nice": false}, "axis": {"values": [0, 20, 40, 60, 80, 100], "tickCount": 12}},
       "x2": {"field": "b"},
       "y": {"field": "p", "type": "quantitative", "title": "Probability", "scale": {"domain": [0, 0.029], "nice": false}, "axis": {"values": [0, 0.005, 0.01, 0.015, 0.02, 0.025], "format": ".3f", "tickCount": 12}},
       "y2": {"datum": 0},
       "color": {"field": "s", "type": "nominal", "scale": {"domain": ["Fit Manual", "Manual"], "range": ["#ee2222", "#008000"]}, "legend": {"labelExpr": "indexof(datum.label, 'Fit') == 0 ? 'Best Fit' : datum.label", "encode": {"symbols": {"update": {"shape": {"signal": "indexof(datum.value, 'Fit') == 0 ? 'stroke' : 'M-1,-0.3H1V0.3H-1Z'"}, "fill": {"signal": "indexof(datum.value, 'Fit') == 0 ? 'transparent' : '#008000'"}, "stroke": {"signal": "indexof(datum.value, 'Fit') == 0 ? '#ee2222' : 'transparent'"}, "opacity": {"signal": "indexof(datum.value, 'Fit') == 0 ? 1 : 0.5"}, "strokeDash": {"value": [2, 1.5]}, "strokeWidth": {"value": 0.8}, "size": {"value": 160}}}}}}
      }},
     {"data": {"name": "fit"}, "transform": [{"filter": "datum.v == 'LVESV' && datum.g == 'Fit Manual'"}],
      "mark": {"type": "line", "strokeWidth": 0.8, "strokeDash": [2, 1.5]},
      "encoding": {
       "x": {"field": "x", "type": "quantitative", "title": "LVESV"},
       "y": {"field": "y", "type": "quantitative", "title": "Probability"},
       "color": {"field": "g", "type": "nominal", "scale": {"domain": ["Fit Manual", "Manual"], "range": ["#ee2222", "#008000"]}}
      }}
    ]
  },
  {
    "width": 157, "height": 145,
    "title": "Normalized Histogram of LVM (Manual)",
    "layer": [
     {"data": {"name": "hist"}, "transform": [{"filter": "datum.v == 'LVM' && datum.s == 'Manual'"}],
      "mark": {"type": "rect", "fillOpacity": 0.5, "strokeWidth": 0},
      "encoding": {
       "x": {"field": "a", "type": "quantitative", "title": "LVM", "scale": {"domain": [0, 169], "nice": false}, "axis": {"values": [0, 20, 40, 60, 80, 100, 120, 140, 160], "tickCount": 12}},
       "x2": {"field": "b"},
       "y": {"field": "p", "type": "quantitative", "title": "Probability", "scale": {"domain": [0, 0.0238], "nice": false}, "axis": {"values": [0, 0.005, 0.01, 0.015, 0.02], "format": ".3f", "tickCount": 12}},
       "y2": {"datum": 0},
       "color": {"field": "s", "type": "nominal", "scale": {"domain": ["Fit Manual", "Manual"], "range": ["#ee2222", "#008000"]}, "legend": {"labelExpr": "indexof(datum.label, 'Fit') == 0 ? 'Best Fit' : datum.label", "encode": {"symbols": {"update": {"shape": {"signal": "indexof(datum.value, 'Fit') == 0 ? 'stroke' : 'M-1,-0.3H1V0.3H-1Z'"}, "fill": {"signal": "indexof(datum.value, 'Fit') == 0 ? 'transparent' : '#008000'"}, "stroke": {"signal": "indexof(datum.value, 'Fit') == 0 ? '#ee2222' : 'transparent'"}, "opacity": {"signal": "indexof(datum.value, 'Fit') == 0 ? 1 : 0.5"}, "strokeDash": {"value": [2, 1.5]}, "strokeWidth": {"value": 0.8}, "size": {"value": 160}}}}}}
      }},
     {"data": {"name": "fit"}, "transform": [{"filter": "datum.v == 'LVM' && datum.g == 'Fit Manual'"}],
      "mark": {"type": "line", "strokeWidth": 0.8, "strokeDash": [2, 1.5]},
      "encoding": {
       "x": {"field": "x", "type": "quantitative", "title": "LVM"},
       "y": {"field": "y", "type": "quantitative", "title": "Probability"},
       "color": {"field": "g", "type": "nominal", "scale": {"domain": ["Fit Manual", "Manual"], "range": ["#ee2222", "#008000"]}}
      }}
    ]
  }
 ]
},
{
 "title": {"text": "Automatic vs Manual", "font": "Lato", "fontSize": 15.5, "color": "#6a6a6a", "anchor": "middle", "offset": 11, "dx": -13},
 "resolve": {"scale": {"color": "independent"}},
 "spacing": 12,
 "vconcat": [
  {
    "width": 157, "height": 145,
    "title": "Automatic vs. Manual",
    "layer": [
     {"data": {"name": "hist"}, "transform": [{"filter": "datum.v == 'LVEDV'"}],
      "mark": {"type": "rect", "fillOpacity": 0.5, "strokeWidth": 0},
      "encoding": {
       "x": {"field": "a", "type": "quantitative", "title": "LVEDV", "scale": {"domain": [0, 259], "nice": false}, "axis": {"values": [0, 50, 100, 150, 200, 250], "tickCount": 12}},
       "x2": {"field": "b"},
       "y": {"field": "p", "type": "quantitative", "title": "Probability", "scale": {"domain": [0, 0.0165], "nice": false}, "axis": {"values": [0, 0.002, 0.004, 0.006, 0.008, 0.01, 0.012, 0.014, 0.016], "format": ".3f", "tickCount": 12}},
       "y2": {"datum": 0},
       "color": {"field": "s", "type": "nominal", "scale": {"domain": ["Fit Auto", "Fit Manual", "Automatic", "Manual"], "range": ["#ee2222", "#111111", "#0000ff", "#008000"]}, "legend": {"labelExpr": "indexof(datum.label, 'Fit') == 0 ? 'Best ' + datum.label : datum.label", "encode": {"symbols": {"update": {"shape": {"signal": "indexof(datum.value, 'Fit') == 0 ? 'stroke' : 'M-1,-0.3H1V0.3H-1Z'"}, "fill": {"signal": "datum.value == 'Automatic' ? '#0000ff' : datum.value == 'Manual' ? '#008000' : 'transparent'"}, "stroke": {"signal": "datum.value == 'Fit Auto' ? '#ee2222' : datum.value == 'Fit Manual' ? '#111111' : 'transparent'"}, "opacity": {"signal": "indexof(datum.value, 'Fit') == 0 ? 1 : 0.5"}, "strokeDash": {"value": [2, 1.5]}, "strokeWidth": {"value": 0.8}, "size": {"value": 160}}}}}}
      }},
     {"data": {"name": "fit"}, "transform": [{"filter": "datum.v == 'LVEDV'"}],
      "mark": {"type": "line", "strokeWidth": 0.8, "strokeDash": [2, 1.5]},
      "encoding": {
       "x": {"field": "x", "type": "quantitative", "title": "LVEDV"},
       "y": {"field": "y", "type": "quantitative", "title": "Probability"},
       "color": {"field": "g", "type": "nominal", "scale": {"domain": ["Fit Auto", "Fit Manual", "Automatic", "Manual"], "range": ["#ee2222", "#111111", "#0000ff", "#008000"]}}
      }}
    ]
  },
  {
    "width": 157, "height": 145,
    "title": "Automatic vs. Manual",
    "layer": [
     {"data": {"name": "hist"}, "transform": [{"filter": "datum.v == 'LVESV'"}],
      "mark": {"type": "rect", "fillOpacity": 0.5, "strokeWidth": 0},
      "encoding": {
       "x": {"field": "a", "type": "quantitative", "title": "LVESV", "scale": {"domain": [0, 115], "nice": false}, "axis": {"values": [0, 20, 40, 60, 80, 100], "tickCount": 12}},
       "x2": {"field": "b"},
       "y": {"field": "p", "type": "quantitative", "title": "Probability", "scale": {"domain": [0, 0.029], "nice": false}, "axis": {"values": [0, 0.005, 0.01, 0.015, 0.02, 0.025], "format": ".3f", "tickCount": 12}},
       "y2": {"datum": 0},
       "color": {"field": "s", "type": "nominal", "scale": {"domain": ["Fit Auto", "Fit Manual", "Automatic", "Manual"], "range": ["#ee2222", "#111111", "#0000ff", "#008000"]}, "legend": {"labelExpr": "indexof(datum.label, 'Fit') == 0 ? 'Best ' + datum.label : datum.label", "encode": {"symbols": {"update": {"shape": {"signal": "indexof(datum.value, 'Fit') == 0 ? 'stroke' : 'M-1,-0.3H1V0.3H-1Z'"}, "fill": {"signal": "datum.value == 'Automatic' ? '#0000ff' : datum.value == 'Manual' ? '#008000' : 'transparent'"}, "stroke": {"signal": "datum.value == 'Fit Auto' ? '#ee2222' : datum.value == 'Fit Manual' ? '#111111' : 'transparent'"}, "opacity": {"signal": "indexof(datum.value, 'Fit') == 0 ? 1 : 0.5"}, "strokeDash": {"value": [2, 1.5]}, "strokeWidth": {"value": 0.8}, "size": {"value": 160}}}}}}
      }},
     {"data": {"name": "fit"}, "transform": [{"filter": "datum.v == 'LVESV'"}],
      "mark": {"type": "line", "strokeWidth": 0.8, "strokeDash": [2, 1.5]},
      "encoding": {
       "x": {"field": "x", "type": "quantitative", "title": "LVESV"},
       "y": {"field": "y", "type": "quantitative", "title": "Probability"},
       "color": {"field": "g", "type": "nominal", "scale": {"domain": ["Fit Auto", "Fit Manual", "Automatic", "Manual"], "range": ["#ee2222", "#111111", "#0000ff", "#008000"]}}
      }}
    ]
  },
  {
    "width": 157, "height": 145,
    "title": "Automatic vs. Manual",
    "layer": [
     {"data": {"name": "hist"}, "transform": [{"filter": "datum.v == 'LVM'"}],
      "mark": {"type": "rect", "fillOpacity": 0.5, "strokeWidth": 0},
      "encoding": {
       "x": {"field": "a", "type": "quantitative", "title": "LVM", "scale": {"domain": [0, 169], "nice": false}, "axis": {"values": [0, 20, 40, 60, 80, 100, 120, 140, 160], "tickCount": 12}},
       "x2": {"field": "b"},
       "y": {"field": "p", "type": "quantitative", "title": "Probability", "scale": {"domain": [0, 0.0238], "nice": false}, "axis": {"values": [0, 0.005, 0.01, 0.015, 0.02], "format": ".3f", "tickCount": 12}},
       "y2": {"datum": 0},
       "color": {"field": "s", "type": "nominal", "scale": {"domain": ["Fit Auto", "Fit Manual", "Automatic", "Manual"], "range": ["#ee2222", "#111111", "#0000ff", "#008000"]}, "legend": {"labelExpr": "indexof(datum.label, 'Fit') == 0 ? 'Best ' + datum.label : datum.label", "encode": {"symbols": {"update": {"shape": {"signal": "indexof(datum.value, 'Fit') == 0 ? 'stroke' : 'M-1,-0.3H1V0.3H-1Z'"}, "fill": {"signal": "datum.value == 'Automatic' ? '#0000ff' : datum.value == 'Manual' ? '#008000' : 'transparent'"}, "stroke": {"signal": "datum.value == 'Fit Auto' ? '#ee2222' : datum.value == 'Fit Manual' ? '#111111' : 'transparent'"}, "opacity": {"signal": "indexof(datum.value, 'Fit') == 0 ? 1 : 0.5"}, "strokeDash": {"value": [2, 1.5]}, "strokeWidth": {"value": 0.8}, "size": {"value": 160}}}}}}
      }},
     {"data": {"name": "fit"}, "transform": [{"filter": "datum.v == 'LVM'"}],
      "mark": {"type": "line", "strokeWidth": 0.8, "strokeDash": [2, 1.5]},
      "encoding": {
       "x": {"field": "x", "type": "quantitative", "title": "LVM"},
       "y": {"field": "y", "type": "quantitative", "title": "Probability"},
       "color": {"field": "g", "type": "nominal", "scale": {"domain": ["Fit Auto", "Fit Manual", "Automatic", "Manual"], "range": ["#ee2222", "#111111", "#0000ff", "#008000"]}}
      }}
    ]
  }
 ]
}
]
}
